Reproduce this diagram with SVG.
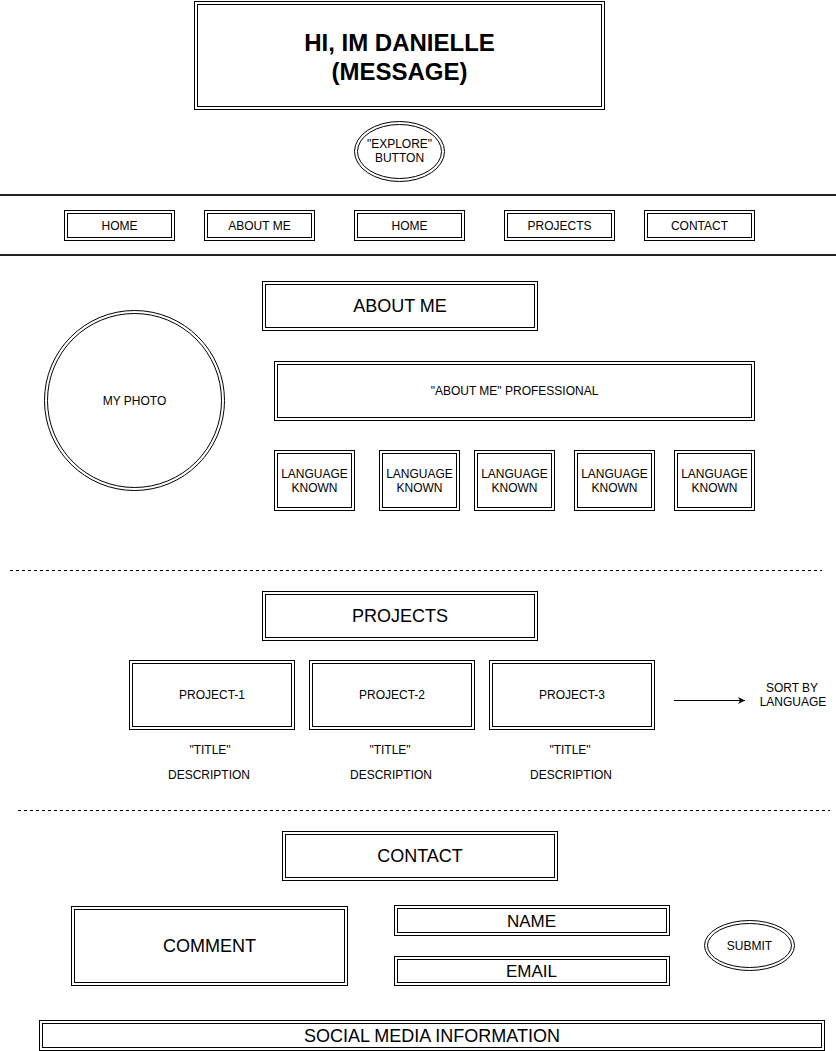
<svg xmlns="http://www.w3.org/2000/svg" width="836" height="1051" viewBox="0 0 836 1051">
  <defs>
    <marker id="arrow" markerWidth="8" markerHeight="8" refX="7" refY="4" orient="auto" markerUnits="userSpaceOnUse">
      <path d="M0,0.5 L7,4 L0,7.5 L2,4 Z" fill="#000"/>
    </marker>
  </defs>
  <style>
    .box { fill: #fff; stroke: #000; stroke-width: 1; }
    .inner { fill: none; stroke: #000; stroke-width: 1; }
    .rule { stroke: #222; stroke-width: 2; }
    .dash { stroke: #000; stroke-width: 1; stroke-dasharray: 3 3; }
    text { font-family: "Liberation Sans", Arial, sans-serif; fill: #000; text-anchor: middle; dominant-baseline: central; }
    .s12 { font-size: 12px; }
    .s17 { font-size: 17px; }
    .s18 { font-size: 18px; }
    .hero { font-size: 24px; font-weight: bold; }
  </style>

  <rect width="836" height="1051" fill="#fff"/>

  <!-- header -->
  <g id="hero">
    <rect class="box" x="194.5" y="1.5" width="410" height="108"/>
    <rect class="inner" x="197.5" y="4.5" width="404" height="102"/>
    <text class="hero" x="399.5" y="42">HI, IM DANIELLE</text>
    <text class="hero" x="399.5" y="71">(MESSAGE)</text>
  </g>
  <g id="explore">
    <ellipse class="box" cx="399.5" cy="151.5" rx="45" ry="30"/>
    <ellipse class="inner" cx="399.5" cy="151.5" rx="42" ry="27"/>
    <text class="s12" x="399.5" y="144">"EXPLORE"</text>
    <text class="s12" x="399.5" y="158">BUTTON</text>
  </g>

  <!-- navigation bar -->
  <g id="nav-rules">
    <line class="rule" x1="0" y1="195" x2="836" y2="195"/>
    <line class="rule" x1="0" y1="255" x2="836" y2="255"/>
  </g>
  <g id="nav-home">
    <rect class="box" x="64.5" y="210.5" width="110" height="30"/>
    <rect class="inner" x="67.5" y="213.5" width="104" height="24"/>
    <text class="s12" x="119.5" y="226">HOME</text>
  </g>
  <g id="nav-about">
    <rect class="box" x="204.5" y="210.5" width="110" height="30"/>
    <rect class="inner" x="207.5" y="213.5" width="104" height="24"/>
    <text class="s12" x="259.5" y="226">ABOUT ME</text>
  </g>
  <g id="nav-home-2">
    <rect class="box" x="354.5" y="210.5" width="110" height="30"/>
    <rect class="inner" x="357.5" y="213.5" width="104" height="24"/>
    <text class="s12" x="409.5" y="226">HOME</text>
  </g>
  <g id="nav-projects">
    <rect class="box" x="504.5" y="210.5" width="110" height="30"/>
    <rect class="inner" x="507.5" y="213.5" width="104" height="24"/>
    <text class="s12" x="559.5" y="226">PROJECTS</text>
  </g>
  <g id="nav-contact">
    <rect class="box" x="644.5" y="210.5" width="110" height="30"/>
    <rect class="inner" x="647.5" y="213.5" width="104" height="24"/>
    <text class="s12" x="699.5" y="226">CONTACT</text>
  </g>

  <!-- about me section -->
  <g id="about-title">
    <rect class="box" x="262.5" y="281.5" width="275" height="49"/>
    <rect class="inner" x="265.5" y="284.5" width="269" height="43"/>
    <text class="s18" x="400" y="306">ABOUT ME</text>
  </g>
  <g id="photo">
    <circle class="box" cx="134.5" cy="400.5" r="90"/>
    <circle class="inner" cx="134.5" cy="400.5" r="87"/>
    <text class="s12" x="134.5" y="401">MY PHOTO</text>
  </g>
  <g id="about-text">
    <rect class="box" x="274.5" y="361.5" width="480" height="59"/>
    <rect class="inner" x="277.5" y="364.5" width="474" height="53"/>
    <text class="s12" x="514.5" y="391">"ABOUT ME" PROFESSIONAL</text>
  </g>
  <g id="lang-1">
    <rect class="box" x="274.5" y="450.5" width="80" height="60"/>
    <rect class="inner" x="277.5" y="453.5" width="74" height="54"/>
    <text class="s12" x="314.5" y="474">LANGUAGE</text>
    <text class="s12" x="314.5" y="488">KNOWN</text>
  </g>
  <g id="lang-2">
    <rect class="box" x="379.5" y="450.5" width="80" height="60"/>
    <rect class="inner" x="382.5" y="453.5" width="74" height="54"/>
    <text class="s12" x="419.5" y="474">LANGUAGE</text>
    <text class="s12" x="419.5" y="488">KNOWN</text>
  </g>
  <g id="lang-3">
    <rect class="box" x="474.5" y="450.5" width="80" height="60"/>
    <rect class="inner" x="477.5" y="453.5" width="74" height="54"/>
    <text class="s12" x="514.5" y="474">LANGUAGE</text>
    <text class="s12" x="514.5" y="488">KNOWN</text>
  </g>
  <g id="lang-4">
    <rect class="box" x="574.5" y="450.5" width="80" height="60"/>
    <rect class="inner" x="577.5" y="453.5" width="74" height="54"/>
    <text class="s12" x="614.5" y="474">LANGUAGE</text>
    <text class="s12" x="614.5" y="488">KNOWN</text>
  </g>
  <g id="lang-5">
    <rect class="box" x="674.5" y="450.5" width="80" height="60"/>
    <rect class="inner" x="677.5" y="453.5" width="74" height="54"/>
    <text class="s12" x="714.5" y="474">LANGUAGE</text>
    <text class="s12" x="714.5" y="488">KNOWN</text>
  </g>

  <g id="divider-1">
    <line class="dash" x1="10" y1="570.5" x2="822" y2="570.5"/>
  </g>

  <!-- projects section -->
  <g id="projects-title">
    <rect class="box" x="262.5" y="591.5" width="275" height="49"/>
    <rect class="inner" x="265.5" y="594.5" width="269" height="43"/>
    <text class="s18" x="400" y="616">PROJECTS</text>
  </g>
  <g id="project-1">
    <rect class="box" x="129.5" y="660.5" width="165" height="69"/>
    <rect class="inner" x="132.5" y="663.5" width="159" height="63"/>
    <text class="s12" x="212" y="695">PROJECT-1</text>
    <text class="s12" x="210" y="750">"TITLE"</text>
    <text class="s12" x="209" y="775">DESCRIPTION</text>
  </g>
  <g id="project-2">
    <rect class="box" x="309.5" y="660.5" width="165" height="69"/>
    <rect class="inner" x="312.5" y="663.5" width="159" height="63"/>
    <text class="s12" x="392" y="695">PROJECT-2</text>
    <text class="s12" x="390" y="750">"TITLE"</text>
    <text class="s12" x="391" y="775">DESCRIPTION</text>
  </g>
  <g id="project-3">
    <rect class="box" x="489.5" y="660.5" width="165" height="69"/>
    <rect class="inner" x="492.5" y="663.5" width="159" height="63"/>
    <text class="s12" x="572" y="695">PROJECT-3</text>
    <text class="s12" x="570" y="750">"TITLE"</text>
    <text class="s12" x="571" y="775">DESCRIPTION</text>
  </g>
  <g id="sort-label">
    <text class="s12" x="792" y="688">SORT BY</text>
    <text class="s12" x="793" y="702">LANGUAGE</text>
  </g>
  <g id="connectors">
    <line x1="674" y1="700.5" x2="745" y2="700.5" stroke="#000" stroke-width="1" marker-end="url(#arrow)"/>
  </g>

  <g id="divider-2">
    <line class="dash" x1="18" y1="810.5" x2="830" y2="810.5"/>
  </g>

  <!-- contact section -->
  <g id="contact-title">
    <rect class="box" x="282.5" y="831.5" width="275" height="49"/>
    <rect class="inner" x="285.5" y="834.5" width="269" height="43"/>
    <text class="s18" x="420" y="856">CONTACT</text>
  </g>
  <g id="comment">
    <rect class="box" x="71.5" y="906.5" width="276" height="79"/>
    <rect class="inner" x="74.5" y="909.5" width="270" height="73"/>
    <text class="s18" x="209.5" y="946">COMMENT</text>
  </g>
  <g id="name">
    <rect class="box" x="394.5" y="905.5" width="275" height="30"/>
    <rect class="inner" x="397.5" y="908.5" width="269" height="24"/>
    <text class="s17" x="531.5" y="921">NAME</text>
  </g>
  <g id="email">
    <rect class="box" x="394.5" y="956.5" width="275" height="29"/>
    <rect class="inner" x="397.5" y="959.5" width="269" height="23"/>
    <text class="s17" x="531.5" y="971">EMAIL</text>
  </g>
  <g id="submit">
    <ellipse class="box" cx="749.5" cy="945.5" rx="45" ry="25"/>
    <ellipse class="inner" cx="749.5" cy="945.5" rx="42" ry="22"/>
    <text class="s12" x="749.5" y="946">SUBMIT</text>
  </g>
  <g id="social">
    <rect class="box" x="39.5" y="1020.5" width="785" height="30"/>
    <rect class="inner" x="42.5" y="1023.5" width="779" height="24"/>
    <text class="s18" x="432" y="1036">SOCIAL MEDIA INFORMATION</text>
  </g>
</svg>
